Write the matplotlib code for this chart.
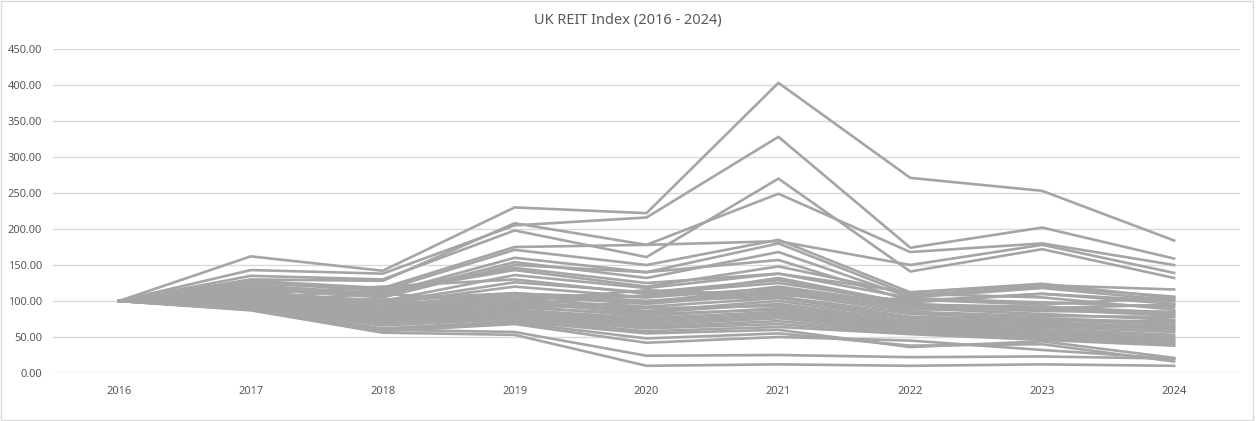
import matplotlib
matplotlib.use("Agg")
import matplotlib.pyplot as plt
from matplotlib.patches import Rectangle
from matplotlib.ticker import FuncFormatter

years = ["2016", "2017", "2018", "2019", "2020", "2021", "2022", "2023", "2024"]

s01 = [100, 162, 142, 230, 222, 403, 271, 253, 184]
s02 = [100, 143, 138, 205, 216, 328, 174, 202, 159]
s03 = [100, 135, 130, 198, 161, 270, 141, 172, 132]
s04 = [100, 130, 128, 208, 178, 249, 168, 180, 150]
s05 = [100, 128, 118, 175, 178, 183, 150, 178, 139]
s06 = [100, 125, 115, 171, 150, 185, 112, 122, 116]
s07 = [100, 122, 110, 160, 140, 180, 108, 120, 106]
s08 = [100, 120, 108, 154, 132, 168, 105, 118, 101]
s09 = [100, 118, 105, 150, 140, 157, 100, 110, 96]
s10 = [100, 115, 112, 143, 120, 148, 110, 105, 88]
s11 = [100, 112, 100, 136, 118, 138, 104, 98, 92]
s12 = [100, 110, 98, 126, 112, 129, 95, 90, 81]
s13 = [100, 108, 96, 120, 105, 118, 92, 86, 85]
s14 = [100, 106, 102, 111, 100, 113, 90, 82, 74]
s15 = [100, 104, 95, 108, 96, 111, 85, 79, 78]
s16 = [100, 103, 92, 105, 100, 106, 82, 76, 70]
s17 = [100, 102, 90, 102, 92, 104, 78, 74, 67]
s18 = [100, 100, 88, 100, 86, 100, 76, 72, 72]
s19 = [100, 99, 86, 97, 84, 96, 73, 70, 64]
s20 = [100, 98, 84, 95, 90, 93, 70, 68, 60]
s21 = [100, 97, 82, 93, 79, 90, 68, 66, 62]
s22 = [100, 96, 80, 91, 82, 88, 66, 64, 57]
s23 = [100, 95, 78, 88, 76, 85, 64, 61, 53]
s24 = [100, 94, 76, 86, 73, 82, 63, 58, 50]
s25 = [100, 93, 75, 84, 70, 79, 61, 56, 47]
s26 = [100, 92, 73, 82, 67, 76, 59, 54, 44]
s27 = [100, 91, 71, 79, 64, 72, 57, 51, 42]
s28 = [100, 90, 69, 77, 62, 68, 55, 48, 40]
s29 = [100, 89, 66, 75, 58, 64, 54, 46, 38]
s30 = [100, 88, 62, 72, 55, 60, 36, 44, 21]
s31 = [100, 88, 60, 70, 48, 55, 38, 40, 16]
s32 = [100, 90, 58, 68, 42, 50, 45, 32, 20]
s33 = [100, 89, 60, 57, 24, 25, 22, 23, 20]
s34 = [100, 87, 56, 53, 10, 12, 10, 12, 10]
s35 = [100, 105, 115, 146, 125, 138, 112, 124, 104]
s36 = [100, 110, 120, 130, 110, 125, 98, 110, 100]
s37 = [100, 115, 95, 90, 98, 120, 95, 92, 84]
s38 = [100, 112, 85, 95, 108, 115, 88, 90, 95]
s39 = [100, 100, 110, 100, 115, 108, 102, 95, 105]
s40 = [100, 95, 100, 110, 105, 132, 96, 88, 80]

series = [s01, s02, s03, s04, s05, s06, s07, s08, s09, s10,
          s11, s12, s13, s14, s15, s16, s17, s18, s19, s20,
          s21, s22, s23, s24, s25, s26, s27, s28, s29, s30,
          s31, s32, s33, s34, s35, s36, s37, s38, s39, s40]

plt.rcParams['font.family'] = ['Noto Sans', 'DejaVu Sans']

fig = plt.figure(figsize=(12.56, 4.21), dpi=100)
fig.patches.append(Rectangle((0.001, 0.002), 0.997, 0.995, transform=fig.transFigure,
                             fill=False, edgecolor="#D9D9D9", linewidth=1.0))
ax = fig.add_axes([0.0422, 0.114, 0.9451, 0.7696])

x = list(range(len(years)))
for s in series:
    ax.plot(x, s, color="#A5A5A5", linewidth=1.9, zorder=3)

ax.set_xlim(-0.5, len(years) - 0.5)
ax.set_ylim(0, 450)
ax.set_yticks(range(0, 451, 50))
ax.yaxis.set_major_formatter(FuncFormatter(lambda v, p: f"{v:.2f}"))
ax.set_xticks(x)
ax.set_xticklabels(years)
ax.grid(axis="y", color="#D9D9D9", linewidth=1.0, zorder=0)
ax.set_axisbelow(True)
for sp in ax.spines.values():
    sp.set_visible(False)
ax.tick_params(axis="both", length=0, labelsize=8, colors="#595959")
ax.tick_params(axis="y", pad=8)
ax.tick_params(axis="x", pad=9)

fig.text(0.5, 0.952, "UK REIT Index (2016 - 2024)", ha="center", va="center",
         fontsize=10.5, color="#595959")

fig.savefig("out.png", dpi=100)
